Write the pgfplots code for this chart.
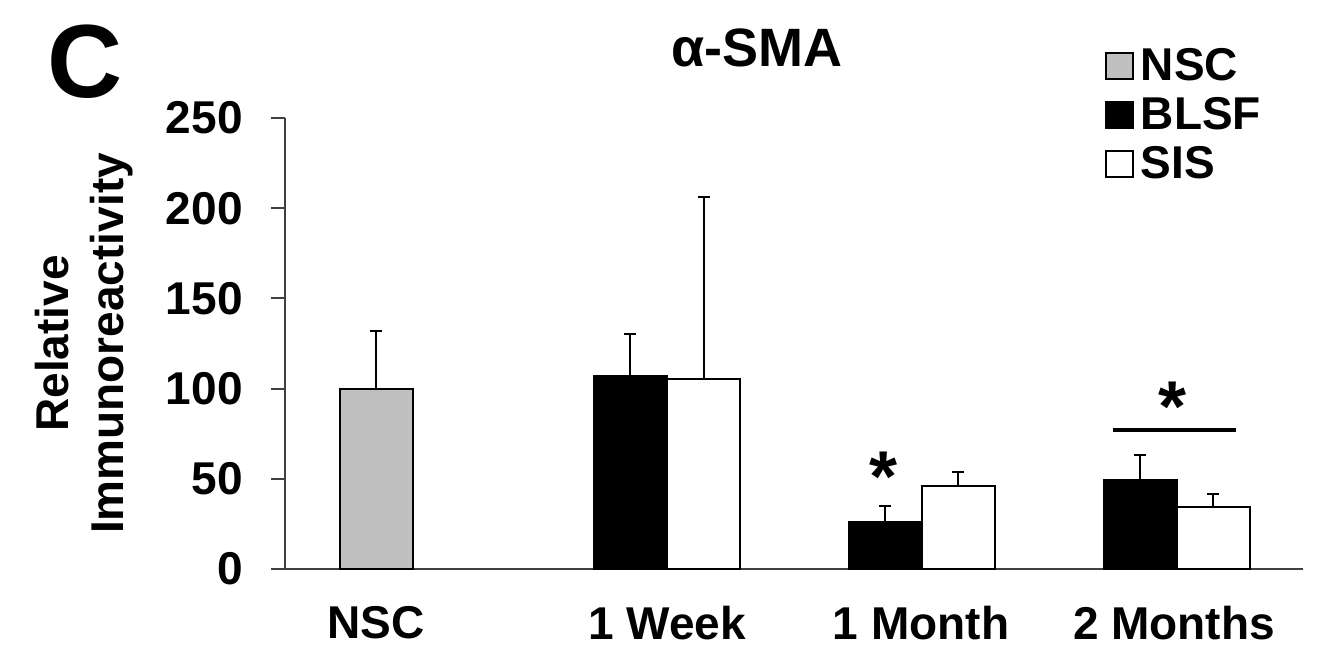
\documentclass[border=0pt]{standalone}
\usepackage{fontspec}
\setmainfont{Liberation Sans}
\usepackage{pgfplots}
\pgfplotsset{compat=1.18}
\definecolor{nscgray}{HTML}{C0C0C0}
\begin{document}
\begin{tikzpicture}
\useasboundingbox (0,0) rectangle (667pt,327.5pt);
\begin{axis}[
  at={(142.5pt,43pt)}, anchor=south west,
  scale only axis, width=509pt, height=225.5pt,
  xmin=285, xmax=1303, ymin=0, ymax=250,
  clip=false,
  axis lines*=left,
  axis line style={line width=1pt, black!75},
  ytick={0,50,100,150,200,250},
  xtick={376,667,921,1174},
  xticklabels={NSC,1 Week,1 Month,2 Months},
  tick align=outside,
  major tick length=7pt,
  ytick style={line width=1pt, black!75},
  xtick style={draw=none},
  /pgf/number format/assume math mode=true,
  ticklabel style={font=\bfseries\fontsize{23}{23}\selectfont},
  yticklabel style={inner sep=0pt, xshift=-14pt},
  xticklabel style={yshift=-8pt},
  ylabel={Relative\\Immunoreactivity},
  ylabel style={at={(axis description cs:-0.197,0.5)}, anchor=center, align=center,
    font=\bfseries\fontsize{23}{27.5}\selectfont},
  title={α-SMA},
  title style={at={(axis description cs:0.4637,1.128)}, anchor=center,
    font=\bfseries\fontsize{27}{27}\selectfont},
  legend style={at={(axis description cs:0.8047,1.165)}, anchor=north west,
    draw=none, fill=none, inner sep=0pt, row sep=3pt, column sep=1.7pt,
    font=\bfseries\fontsize{23}{23}\selectfont},
  legend cell align=left,
  sq/.style={legend image code/.code={\draw[##1, line width=1pt] (-2pt,-6.5pt) rectangle (11.5pt,6.5pt);}},
  error bars/error bar style={line width=1pt, black},
  error bars/error mark options={rotate=90, line width=1pt, black, mark size=3pt},
]
\addplot[ybar, bar shift=0pt, bar width=73, fill=nscgray, draw=black, line width=1pt, sq,
  error bars/.cd, y dir=plus, y explicit]
  coordinates {(376,100) +- (0,32)};
\addlegendentry{NSC}
\addplot[ybar, bar shift=0pt, bar width=73, fill=black, draw=black, line width=1pt, sq,
  error bars/.cd, y dir=plus, y explicit]
  coordinates {(630,107) +- (0,23) (885,26) +- (0,9) (1140,49.5) +- (0,13.5)};
\addlegendentry{BLSF}
\addplot[ybar, bar shift=0pt, bar width=73, fill=white, draw=black, line width=1pt, sq,
  error bars/.cd, y dir=plus, y explicit]
  coordinates {(703.5,105.5) +- (0,100.5) (958,46) +- (0,8) (1213,34.5) +- (0,7)};
\addlegendentry{SIS}
\node[anchor=north, inner sep=0pt, font=\bfseries\fontsize{36}{36}\selectfont] at (axis cs:884,65) {*};
\node[anchor=north, inner sep=0pt, font=\bfseries\fontsize{36}{36}\selectfont] at (axis cs:1173,104) {*};
\draw[line width=2pt] (axis cs:1113,77.2) -- (axis cs:1236,77.2);
\node[anchor=center, inner sep=0pt, font=\bfseries\fontsize{52}{52}\selectfont] at (axis description cs:-0.1965,1.124) {C};
\end{axis}
\end{tikzpicture}
\end{document}
